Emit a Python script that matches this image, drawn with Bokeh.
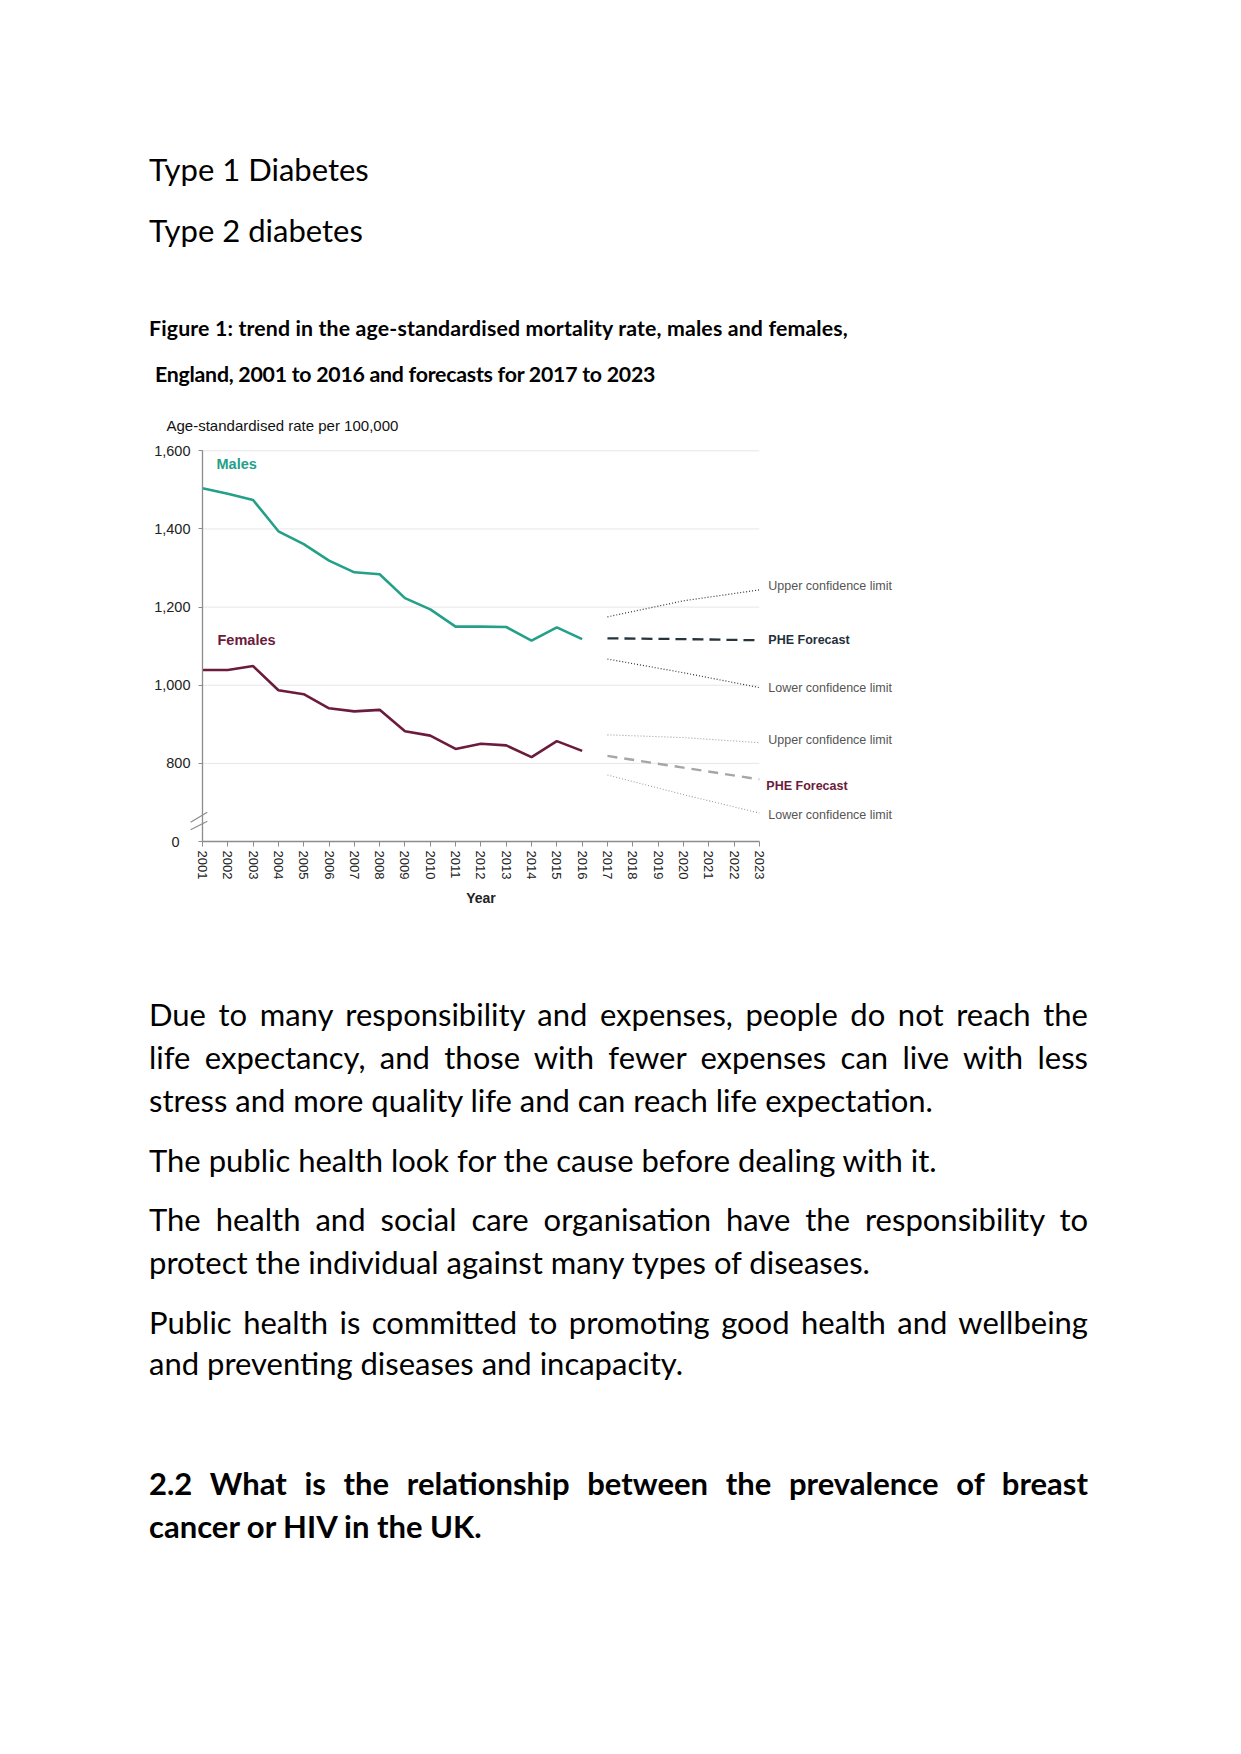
from bokeh.plotting import figure
from bokeh.models import FixedTicker, Label, Div
from bokeh.layouts import column
from bokeh.embed import file_html
from bokeh.resources import INLINE

# ---------------- data ----------------
years = list(range(2001, 2017))
males = [1504, 1490, 1474, 1394, 1361, 1319, 1289, 1284, 1223, 1194,
         1150, 1150, 1149, 1114, 1148, 1118]
females = [1039, 1039, 1049, 987, 977, 941, 933, 937, 882, 871,
           837, 850, 846, 816, 857, 832]
fc_years = [2017, 2020, 2023]
male_upper = [1175, 1216, 1244]
male_fc = [1120, 1118, 1115]
male_lower = [1067, 1032, 994]
female_upper = [873, 866, 853]
female_fc = [819, 789, 759]
female_lower = [770, 720, 673]
y_ticks = [600, 800, 1000, 1200, 1400, 1600]
y_tick_labels = ["0", "800", "1,000", "1,200", "1,400", "1,600"]
grid_values = [800, 1000, 1200, 1400, 1600]
x_ticks = list(range(2001, 2024))
x_tick_labels = [str(y) for y in x_ticks]

MALE_C = "#24a089"
FEMALE_C = "#6b1b3b"
AX_C = "#8c8c8c"
CH_FONT = "Liberation Sans"

# ---------------- chart geometry (pixels) ----------------
FIG_W, FIG_H = 1225, 530
FIG_TOP = 400            # page y of the figure's top edge
AXIS_X = 202             # page x of the y axis (year 2001)
PX_YEAR = 25.31          # pixels per year
Y1600 = 450.3            # page y of the 1,600 gridline
PX_UNIT = 0.3907         # pixels per rate unit

x0 = 2001 - AXIS_X / PX_YEAR
x1 = x0 + FIG_W / PX_YEAR
ytop = 1600 + (Y1600 - FIG_TOP) / PX_UNIT
ybot = 1600 - (FIG_TOP + FIG_H - Y1600) / PX_UNIT

p = figure(width=FIG_W, height=FIG_H, x_range=(x0, x1), y_range=(ybot, ytop),
           output_backend="svg", toolbar_location=None,
           min_border=0, min_border_left=0, min_border_right=0,
           min_border_top=0, min_border_bottom=0)
p.outline_line_color = None
p.background_fill_color = "white"
p.border_fill_color = "white"
p.xgrid.grid_line_color = None
p.ygrid.grid_line_color = None

p.yaxis.fixed_location = 2001
p.yaxis.bounds = (600, 1600)
p.yaxis.ticker = FixedTicker(ticks=y_ticks)
overrides = {t: l for t, l in zip(y_ticks, y_tick_labels)}
overrides[y_ticks[0]] = ""
p.yaxis.major_label_overrides = overrides
p.yaxis.major_label_text_font = CH_FONT
p.yaxis.major_label_text_font_size = "14.5px"
p.yaxis.major_label_text_color = "#222222"
p.yaxis.axis_line_color = AX_C
p.yaxis.axis_line_width = 1.3
p.yaxis.major_tick_line_color = AX_C
p.yaxis.major_tick_out = 4
p.yaxis.major_tick_in = 0
p.yaxis.minor_tick_line_color = None
p.yaxis.major_label_standoff = 8

p.xaxis.fixed_location = 600
p.xaxis.bounds = (2001, 2023)
p.xaxis.ticker = FixedTicker(ticks=x_ticks)
p.xaxis.major_label_overrides = {t: l for t, l in zip(x_ticks, x_tick_labels)}
p.xaxis.major_label_orientation = "vertical"
p.xaxis.major_label_text_font = CH_FONT
p.xaxis.major_label_text_font_size = "13px"
p.xaxis.major_label_text_color = "#222222"
p.xaxis.axis_line_color = AX_C
p.xaxis.axis_line_width = 1.3
p.xaxis.major_tick_line_color = AX_C
p.xaxis.major_tick_out = 5
p.xaxis.major_tick_in = 0
p.xaxis.minor_tick_line_color = None
p.xaxis.major_label_standoff = 4
p.xaxis.axis_label = "Year"
p.xaxis.axis_label_text_font = CH_FONT
p.xaxis.axis_label_text_font_style = "bold"
p.xaxis.axis_label_text_font_size = "14px"
p.xaxis.axis_label_text_color = "#222222"
p.xaxis.axis_label_standoff = 8

# gridlines limited to the data span
p.segment(x0=[x_ticks[0]] * len(grid_values), x1=[x_ticks[-1]] * len(grid_values),
          y0=grid_values, y1=grid_values, line_color="#e6e6e6", line_width=1)

p.line(years, males, color=MALE_C, line_width=2.6)
p.line(years, females, color=FEMALE_C, line_width=2.6)

p.line(fc_years, male_upper, color="#333333", line_width=1.2, line_dash="1 2")
p.line(fc_years, male_fc, color="#26343c", line_width=2.3, line_dash="11 6")
p.line(fc_years, male_lower, color="#333333", line_width=1.2, line_dash="1 2")
p.line(fc_years, female_upper, color="#9a9a9a", line_width=1.1, line_dash="1 2")
p.line(fc_years, female_fc, color="#a6a6a6", line_width=2.4, line_dash="10 7")
p.line(fc_years, female_lower, color="#9a9a9a", line_width=1.1, line_dash="1 2")

# axis break marks
p.segment(x0=[2000.53, 2000.53], x1=[2001.19, 2001.19], y0=[649, 630], y1=[675, 652],
          line_color=AX_C, line_width=1.2)

def lab(x, y, text, xo=0, size="12.5px", color="#555555", style="normal", align="left"):
    p.add_layout(Label(x=x, y=y, x_offset=xo, text=text, text_font=CH_FONT,
                       text_font_size=size, text_color=color, text_font_style=style,
                       text_align=align, text_baseline="middle"))

lab(2001, y_ticks[0], y_tick_labels[0], xo=-23, size="14.5px", color="#222222", align="right")
lab(2001, 1665, "Age-standardised rate per 100,000", xo=-36, size="15px", color="#111111")
lab(2001, 1567, "Males", xo=14, size="14.5px", color=MALE_C, style="bold")
lab(2001, 1115, "Females", xo=15, size="14.5px", color=FEMALE_C, style="bold")
lab(2023, 1255, "Upper confidence limit", xo=9)
lab(2023, 1117, "PHE Forecast", xo=9, color="#1f2f3c", style="bold")
lab(2023, 992, "Lower confidence limit", xo=9)
lab(2023, 859, "Upper confidence limit", xo=9)
lab(2023, 741, "PHE Forecast", xo=7, color=FEMALE_C, style="bold")
lab(2023, 667, "Lower confidence limit", xo=9)

# ---------------- document text ----------------
FONT = "Lato"

def line(text, left, baseline, size, bold=False, width=None, spacing=0):
    top = baseline - 0.987 * size
    st = (f"position:absolute;left:{left}px;top:{top:.1f}px;font-family:{FONT};"
          f"font-size:{size}px;line-height:{1.2*size:.1f}px;color:#000;"
          f"font-weight:{'bold' if bold else 'normal'};letter-spacing:{spacing}px;")
    if width:
        st += f"width:{width}px;text-align:justify;text-align-last:justify;"
    else:
        st += "white-space:nowrap;"
    return f'<div style="{st}">{text}</div>'

BODY = 31
CAP = 21.3
L = 149
JW = 939

top_html = (
    '<div style="position:relative;width:1225px;height:400px;background:white;">'
    + line("Type 1 Diabetes", L, 182, BODY)
    + line("Type 2 diabetes", L, 243, BODY)
    + line("Figure 1: trend in the age-standardised mortality rate, males and females,", L, 337, CAP, True, spacing=0.15)
    + line("England, 2001 to 2016 and forecasts for 2017 to 2023", 155, 383, CAP, True, spacing=-0.25)
    + "</div>"
)

bottom_html = (
    '<div style="position:relative;width:1225px;height:816px;background:white;">'
    + line("Due to many responsibility and expenses, people do not reach the", L, 97, BODY, width=JW)
    + line("life expectancy, and those with fewer expenses can live with less", L, 140, BODY, width=JW)
    + line("stress and more quality life and can reach life expectation.", L, 183, BODY)
    + line("The public health look for the cause before dealing with it.", L, 243, BODY)
    + line("The health and social care organisation have the responsibility to", L, 302, BODY, width=JW)
    + line("protect the individual against many types of diseases.", L, 345, BODY)
    + line("Public health is committed to promoting good health and wellbeing", L, 405, BODY, width=JW)
    + line("and preventing diseases and incapacity.", L, 446, BODY)
    + line("2.2 What is the relationship between the prevalence of breast", L, 566, BODY, True, width=JW)
    + line("cancer or HIV in the UK.", L, 609, BODY, True)
    + "</div>"
)

top_div = Div(text=top_html, width=1225, height=400, margin=(0, 0, 0, 0))
bottom_div = Div(text=bottom_html, width=1225, height=816, margin=(0, 0, 0, 0))

layout = column(top_div, p, bottom_div, spacing=0)
open("out.html", "w").write(file_html(layout, INLINE))
